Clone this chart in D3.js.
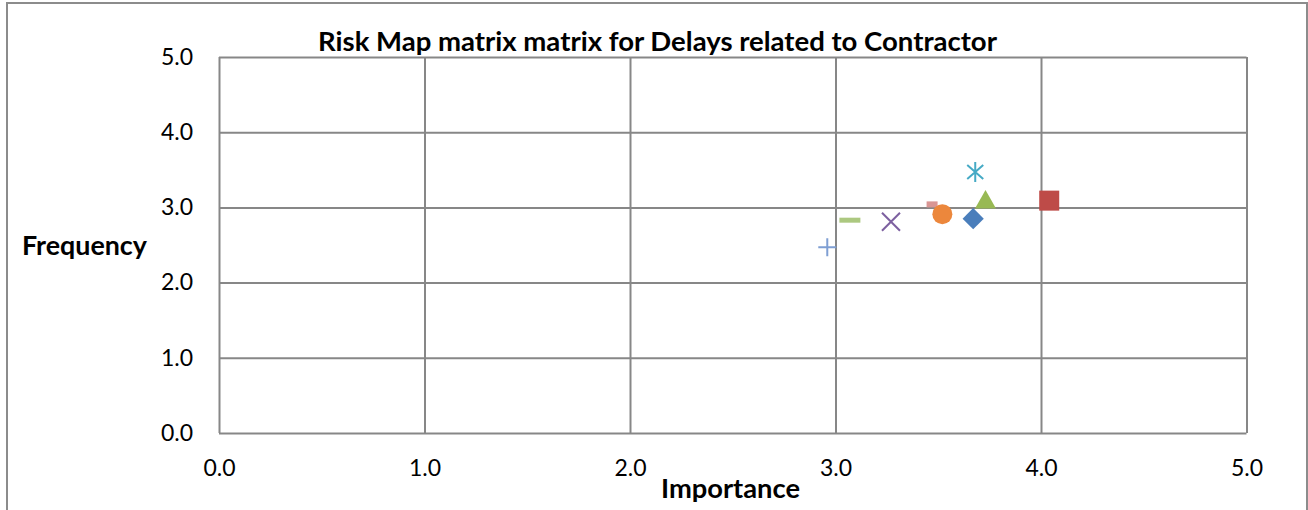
<!DOCTYPE html>
<html>
<head>
<meta charset="utf-8">
<script src="https://cdn.jsdelivr.net/npm/d3@7"></script>
<style>
  html, body { margin: 0; padding: 0; background: #fff; }
  svg { display: block; }
  text { font-family: Lato, "Open Sans", sans-serif; fill: #000; }
</style>
</head>
<body>
<svg id="chart" width="1308" height="510"></svg>
<script>
// Risk factors: importance (x) and frequency (y)
const seriesNames = ["R1", "R2", "R3", "R4", "R5", "R6", "R7", "R8", "R9"];
const importance  = [3.67, 4.04, 3.73, 3.27, 3.68, 3.47, 3.52, 2.96, 3.07];
const frequency   = [2.85, 3.09, 3.10, 2.81, 3.47, 3.04, 2.91, 2.47, 2.83];
const markerShapes = ["diamond", "square", "triangle", "x", "star", "shortdash", "circle", "plus", "dash"];
const markerColors = ["#4a7ebb", "#be4b48", "#98b954", "#7d60a0", "#46aac5", "#d99694", "#ec873c", "#7f9fd3", "#acc880"];

const xTicks = [0, 1, 2, 3, 4, 5];
const yTicks = [0, 1, 2, 3, 4, 5];
const titleText = "Risk Map matrix matrix for Delays related to Contractor";
const xTitle = "Importance";
const yTitle = "Frequency";

const svg = d3.select("#chart");
const plot = { left: 219, top: 57, right: 1246.5, bottom: 433 };
const gridColor = "#878787";
const tickFont = 23;

const x = d3.scaleLinear().domain([0, 5]).range([plot.left, plot.right]);
const y = d3.scaleLinear().domain([0, 5]).range([plot.bottom, plot.top]);

// outer chart border
svg.append("rect")
  .attr("x", 7).attr("y", 3).attr("width", 1300).attr("height", 530)
  .attr("fill", "none").attr("stroke", "#8c8c8c").attr("stroke-width", 2);

// vertical gridlines + x tick labels
const xAxis = d3.axisBottom(x).tickValues(xTicks).tickFormat(d3.format(".1f"))
  .tickSizeInner(-(plot.bottom - plot.top)).tickSizeOuter(0).tickPadding(27);
const gx = svg.append("g").attr("transform", `translate(0,${plot.bottom})`).call(xAxis);
gx.select(".domain").remove();
gx.selectAll(".tick line").attr("stroke", gridColor).attr("stroke-width", 2);
gx.selectAll(".tick text").attr("font-size", tickFont).attr("font-family", "Lato").attr("fill", "#000");

// horizontal gridlines + y tick labels
const yAxis = d3.axisLeft(y).tickValues(yTicks).tickFormat(d3.format(".1f"))
  .tickSizeInner(-(plot.right - plot.left)).tickSizeOuter(0).tickPadding(26);
const gy = svg.append("g").attr("transform", `translate(${plot.left},0)`).call(yAxis);
gy.select(".domain").remove();
gy.selectAll(".tick line").attr("stroke", gridColor).attr("stroke-width", 2);
gy.selectAll(".tick text").attr("font-size", tickFont).attr("font-family", "Lato").attr("fill", "#000");

// scale a bold text element to a given rendered width
function fitWidth(sel, target) {
  const w = sel.node().getComputedTextLength();
  const fs = parseFloat(sel.attr("font-size"));
  sel.attr("font-size", fs * target / w);
}

const title = svg.append("text")
  .attr("x", 657.5).attr("y", 51).attr("text-anchor", "middle")
  .attr("font-weight", "bold").attr("font-size", 24).text(titleText);
fitWidth(title, 679);

const xt = svg.append("text")
  .attr("x", 730.5).attr("y", 498).attr("text-anchor", "middle")
  .attr("font-weight", "bold").attr("font-size", 24).text(xTitle);
fitWidth(xt, 139);

const yt = svg.append("text")
  .attr("x", 84.5).attr("y", 255).attr("text-anchor", "middle")
  .attr("font-weight", "bold").attr("font-size", 24).text(yTitle);
fitWidth(yt, 125);

// markers
const data = seriesNames.map((n, i) => ({
  name: n, x: importance[i], y: frequency[i], shape: markerShapes[i], color: markerColors[i]
}));

const marks = svg.append("g").selectAll("g").data(data).join("g")
  .attr("transform", d => `translate(${x(d.x)},${y(d.y)})`);

marks.each(function (d) {
  const g = d3.select(this);
  const c = d.color;
  switch (d.shape) {
    case "diamond":
      g.append("rect").attr("x", -7.5).attr("y", -7.5).attr("width", 15).attr("height", 15)
        .attr("transform", "rotate(45)").attr("fill", c);
      break;
    case "square":
      g.append("rect").attr("x", -10).attr("y", -10).attr("width", 20).attr("height", 20).attr("fill", c);
      break;
    case "triangle":
      g.append("path").attr("d", "M0,-10L10.5,8.5L-10.5,8.5Z").attr("fill", c);
      break;
    case "circle":
      g.append("circle").attr("r", 10).attr("fill", c);
      break;
    case "x":
      g.append("path").attr("d", "M-9,-9L9,9M-9,9L9,-9").attr("stroke", c).attr("stroke-width", 2).attr("fill", "none");
      break;
    case "plus":
      g.append("path").attr("d", "M-9,0L9,0M0,-9L0,9").attr("stroke", c).attr("stroke-width", 2).attr("fill", "none");
      break;
    case "star":
      g.append("path").attr("d", "M0,-10L0,10M-8,-7L8,7M-8,7L8,-7").attr("stroke", c).attr("stroke-width", 2).attr("fill", "none");
      break;
    case "dash":
      g.append("rect").attr("x", -10.5).attr("y", -2.5).attr("width", 21).attr("height", 5).attr("fill", c);
      break;
    case "shortdash":
      g.append("rect").attr("x", -5.5).attr("y", -3).attr("width", 11).attr("height", 6).attr("fill", c);
      break;
  }
});
</script>
</body>
</html>
